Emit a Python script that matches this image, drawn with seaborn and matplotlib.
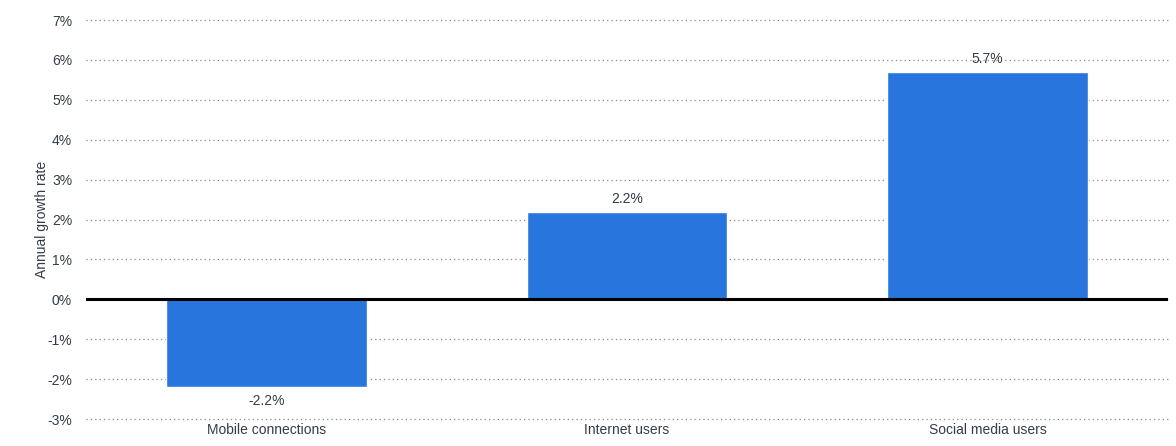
import matplotlib
matplotlib.use("Agg")
import matplotlib.pyplot as plt
import seaborn as sns
import pandas as pd

categories = ["Mobile connections", "Internet users", "Social media users"]
values = [-2.2, 2.2, 5.7]
labels = ["-2.2%", "2.2%", "5.7%"]
yticks = [-3, -2, -1, 0, 1, 2, 3, 4, 5, 6, 7]

sns.set_theme(style="white")
plt.rcParams['font.family'] = ['Liberation Sans', 'DejaVu Sans']

df = pd.DataFrame({"category": categories, "value": values})

fig = plt.figure(figsize=(11.76, 4.46), dpi=100)
ax = fig.add_axes([0.0731, 0.0605, 0.9199, 0.8945])

sns.barplot(data=df, x="category", y="value", color="#2876dd", saturation=1,
            width=0.556, ax=ax, zorder=3)

ax.set_ylim(-3, 7)
ax.set_xlim(-0.5, 2.5)
ax.set_yticks(yticks)
ax.set_yticklabels([f"{t}%" for t in yticks])
ax.yaxis.grid(True, linestyle=(0, (1, 2.5)), color="#8a8a8a", linewidth=0.9, zorder=0)
for gl in ax.get_ygridlines():
    gl.set_clip_on(False)
ax.xaxis.grid(False)
ax.axhline(0, color="black", linewidth=2.2, zorder=4)
for s in ax.spines.values():
    s.set_visible(False)
ax.tick_params(axis="both", length=0, labelsize=10, labelcolor="#333d47")
ax.tick_params(axis="y", pad=10)
ax.tick_params(axis="x", pad=3)
ax.set_xlabel("")
ax.set_ylabel("Annual growth rate", fontsize=10, color="#333d47")
ax.yaxis.set_label_coords(-0.034, 0.5)

for i, (v, lab) in enumerate(zip(values, labels)):
    if v >= 0:
        ax.annotate(lab, (i, v), xytext=(0, 4), textcoords="offset points",
                    ha="center", va="bottom", fontsize=10, color="#333d47", zorder=5)
    else:
        ax.annotate(lab, (i, v), xytext=(0, -5), textcoords="offset points",
                    ha="center", va="top", fontsize=10, color="#333d47", zorder=5)

fig.savefig("out.png", dpi=100)
